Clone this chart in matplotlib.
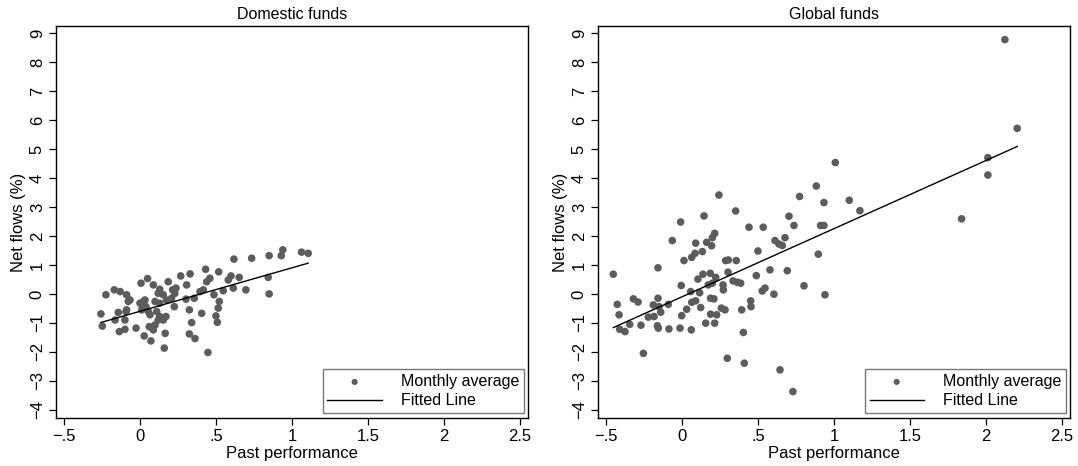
import matplotlib
matplotlib.use("Agg")
import matplotlib.pyplot as plt
import numpy as np

plt.rcParams['font.family'] = ['Liberation Sans', 'DejaVu Sans']

# Domestic funds: past performance vs net flows (%)
dom_x = [-0.257, -0.248, -0.224, -0.169, -0.13, -0.143, -0.164, -0.136, -0.099, -0.099,
         -0.088, -0.088, -0.066, -0.026, 0.007, 0.05, 0.0, 0.022, 0.011, 0.039,
         0.028, 0.072, 0.061, 0.088, 0.099, 0.066, 0.11, 0.088, 0.12, 0.13,
         0.153, 0.13, 0.171, 0.16, 0.166, 0.186, 0.175, 0.215, 0.23, 0.237,
         0.226, 0.208, 0.268, 0.307, 0.33, 0.303, 0.325, 0.34, 0.325, 0.362,
         0.357, 0.395, 0.417, 0.406, 0.432, 0.439, 0.46, 0.447, 0.487, 0.518,
         0.522, 0.515, 0.5, 0.509, 0.548, 0.581, 0.599, 0.614, 0.618, 0.653,
         0.697, 0.735, 0.844, 0.85, 0.85, 0.93, 0.94, 1.063, 1.107,
         0.033, 0.055, 0.12, 0.077, 0.153, 0.099, 0.13, -0.077, -0.092]
dom_y = [-0.69, -1.11, -0.03, 0.14, 0.08, -0.64, -0.90, -1.30, -1.22, -0.90,
         -0.55, -0.03, -0.21, -1.18, 0.37, 0.53, -0.32, -0.26, -0.55, -0.44,
         -1.45, -1.62, -1.13, -1.24, -1.07, -0.72, -0.61, 0.31, 0.02, 0.16,
         -0.03, -0.78, -0.78, -1.87, -1.36, 0.42, -0.21, 0.14, 0.02, 0.20,
         -0.44, -0.15, 0.62, 0.31, 0.69, -0.18, -0.55, -0.99, -1.38, -1.54,
         -0.15, 0.08, 0.14, -0.67, 0.85, 0.42, 0.54, -2.02, -0.03, 0.76,
         -0.26, -0.49, -0.76, -0.98, 0.11, 0.48, 0.62, 0.20, 1.20, 0.57,
         0.14, 1.23, 0.57, 0.0, 1.32, 1.32, 1.52, 1.44, 1.40,
         -0.21, -0.61, -0.90, -1.15, -0.90, -0.26, -0.32, -0.26, -0.61]
dom_fit = (1.50, -0.60)   # slope, intercept

# Global funds
glo_x = [-0.064, -0.009, 0.09, 0.145, 0.162, 0.195, 0.2, 0.215, 0.243, 0.353,
         0.441, 0.535, 0.612, 0.638, 0.678, 0.704, 0.737, 0.774, 0.884, 0.912,
         0.934, 0.934, 0.66,
         -0.452, -0.426, -0.414, -0.41, -0.375, -0.344, -0.32, -0.289, -0.27, -0.254,
         -0.222, -0.189, -0.184, -0.158, -0.158, -0.162, -0.156, -0.151, -0.14, -0.09,
         -0.086, -0.013, -0.005, -0.002, 0.013, 0.031, 0.057, 0.064, 0.061, 0.064,
         0.086, 0.09, 0.105, 0.116, 0.123, 0.134, 0.138, 0.156, 0.173, 0.186,
         0.188, 0.188, 0.2, 0.21, 0.215, 0.222, 0.228, 0.259, 0.27, 0.272,
         0.283, 0.287, 0.298, 0.303, 0.305, 0.336, 0.357, 0.364, 0.386, 0.393,
         0.404, 0.41, 0.452, 0.454, 0.489, 0.5, 0.528, 0.546, 0.579, 0.605,
         0.645, 0.693, 0.73, 0.803, 0.897, 0.941,
         2.125, 2.206, 2.013, 2.013, 1.84, 1.009, 1.101, 1.171]
glo_y = [1.84, 2.48, 1.75, 2.69, 1.78, 1.66, 1.94, 2.09, 3.41, 2.86,
         2.30, 2.30, 1.84, 1.72, 1.94, 2.68, 2.36, 3.36, 3.72, 2.36,
         2.36, 3.15, 1.67,
         0.68, -0.36, -0.72, -1.22, -1.30, -1.05, -0.17, -0.28, -1.08, -2.05,
         -0.80, -0.38, -0.78, -0.15, 0.90, -1.10, -1.18, -0.44, -0.63, -0.36,
         -1.21, -1.18, 0.29, -0.75, 1.15, -0.53, 0.08, 1.26, -1.24, -0.29,
         1.40, -0.24, 0.51, 0.04, -0.47, 1.46, 0.68, -1.01, 0.31, 0.71,
         -0.15, -0.70, 0.37, -0.17, -1.01, 0.57, -0.72, -0.49, 0.31, 0.14,
         -0.55, 1.15, -2.22, 0.75, 1.17, 0.45, 1.15, 0.40, 0.37, -0.55,
         -1.33, -2.39, -0.24, -0.44, 0.63, 1.48, 0.10, 0.20, 0.83, -0.01,
         -2.62, 0.80, -3.37, 0.28, 1.37, -0.03,
         8.77, 5.71, 4.70, 4.10, 2.59, 4.53, 3.23, 2.87]
glo_fit = (2.35, -0.10)

titles = ["Domestic funds", "Global funds"]
x_ticks = [-0.5, 0, 0.5, 1, 1.5, 2, 2.5]
x_labels = ["\u2212.5", "0", ".5", "1", "1.5", "2", "2.5"]
y_ticks = list(range(-4, 10))
y_labels = [("\u2212%d" % -v) if v < 0 else str(v) for v in y_ticks]

fig = plt.figure(figsize=(10.78, 4.66), dpi=100)
positions = [[0.0519, 0.103, 0.4378, 0.8412], [0.5547, 0.103, 0.4378, 0.8412]]
panels = [(dom_x, dom_y, dom_fit), (glo_x, glo_y, glo_fit)]

for pos, (xs, ys, fit), title in zip(positions, panels, titles):
    ax = fig.add_axes(pos)
    xs = np.array(xs)
    ys = np.array(ys)
    ax.scatter(xs, ys, s=30, color='#5c5c5c', edgecolors='none', zorder=3,
               label='Monthly average')
    xl = np.array([xs.min(), xs.max()])
    ax.plot(xl, fit[0] * xl + fit[1], color='black', lw=1.0, zorder=4,
            label='Fitted Line')

    ax.set_xlim(-0.553, 2.553)
    ax.set_ylim(-4.28, 9.24)
    ax.set_xticks(x_ticks)
    ax.set_xticklabels(x_labels, fontsize=12)
    ax.set_yticks(y_ticks)
    ax.set_yticklabels(y_labels, fontsize=12, rotation=90, va='center')
    ax.tick_params(direction='out', length=5, width=0.9, color='black', pad=3)
    for sp in ax.spines.values():
        sp.set_linewidth(1.0)
        sp.set_color('black')
    ax.set_xlabel('Past performance', fontsize=12, labelpad=1)
    ax.set_ylabel('Net flows (%)', fontsize=12, labelpad=3)
    ax.set_title(title, fontsize=11.5, pad=5)

    leg = ax.legend(loc='lower right', bbox_to_anchor=(0.992, 0.013),
                    borderaxespad=0, fontsize=11.5, frameon=True, fancybox=False,
                    handlelength=3.4, handletextpad=1.2, borderpad=0.3,
                    labelspacing=0.25, scatterpoints=1, markerscale=0.8)
    leg.get_frame().set_edgecolor('#555555')
    leg.get_frame().set_linewidth(1.0)

fig.savefig('out.png', dpi=100)
